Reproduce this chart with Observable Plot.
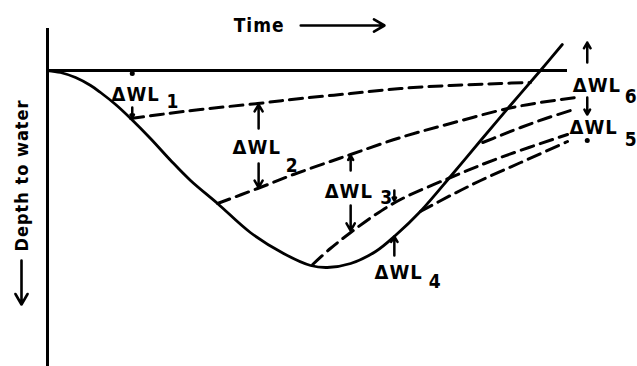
<!DOCTYPE html>
<html><head><meta charset="utf-8">
<script src="https://cdn.jsdelivr.net/npm/d3@7"></script>
<script src="https://cdn.jsdelivr.net/npm/@observablehq/plot@0.6"></script>
<style>html,body{margin:0;padding:0;background:#fff}svg{display:block}</style>
</head><body><div id="chart"></div>
<script>
// Time (0..100) vs depth to water (0 = static level, increasing downward)
const pumpingCurve = [[0,0],[2.5,1],[5.4,3.5],[8.3,7.5],[10.2,11],[13.1,17],[16,24],[19.8,34],[23.7,45],[27.5,55],[32.7,66.5],[39,81],[45.4,91.5],[50.6,97.5],[53.8,98.5],[58.3,96.5],[63.1,90.5],[66.9,82.5],[71.7,70.5],[77.5,53],[83.3,35],[89,17.5],[94.8,0],[99,-13]];
const recovery1 = [[16,24],[21.7,22],[29.4,19.5],[40.4,16.5],[48.7,14],[58.3,11.5],[67.9,9],[77.5,7.5],[87.1,6.5],[92.9,6]];
const recovery2 = [[32.7,66.5],[40.4,59],[47.3,52],[54.4,45.5],[58.3,42],[67.9,33.5],[77.5,26.5],[88.5,19],[94.8,16],[101.5,13.5]];
const recovery3 = [[51,97],[54.4,89],[58.3,81],[63.1,72],[67.9,64.5],[77.5,53.5],[87.1,43.5],[100,32]];
const recovery4 = [[71.7,70.5],[77.5,62.5],[83.3,55],[91,46],[100,35.5]];
const recovery5 = [[83.7,36],[87.1,32.5],[91,28.5],[95.8,24],[100.6,20]];
const staticLevel = [0, 100];

// ΔWL annotations: [time, depth from, depth to]
const measureArrows = [[16.3,18.5,23.5],[40.6,29,17],[40.6,46.5,58.5],[58.3,50,42.5],[58.3,67.5,80],[66.7,60,65],[66.7,92.5,83],[103.8,-4,-14],[103.8,13.5,22]];
const measureDots = [[16.3,1.5],[103.8,35]];
const labelText = ["ΔWL","ΔWL","ΔWL","ΔWL","ΔWL","ΔWL"];
const labelPos = [[12.3,15],[35.6,41.5],[53.3,63.5],[62.9,104],[101,10.5],[100.4,31.5]];
const subText = ["1","2","3","4","6","5"];
const subPos = [[22.9,18.5],[45.8,50.5],[64,66.5],[73.3,108.5],[111,16],[111,37.5]];

const xTitle = "Time";
const yTitle = "Depth to water";

const font = {fontFamily: "'DejaVu Sans Condensed', 'DejaVu Sans', sans-serif", fontWeight: "bold", fill: "black"};
const lineStyle = {x: d => d[0], y: d => d[1], stroke: "black", strokeWidth: 2.8, curve: "catmull-rom"};
const dashed = {...lineStyle, strokeWidth: 3, strokeDasharray: "13,7"};

const chart = Plot.plot({
  width: 637, height: 366,
  marginLeft: 47, marginRight: 70, marginTop: 70, marginBottom: 96,
  x: {domain: [0, 100], axis: null},
  y: {domain: [0, 100], reverse: true, axis: null},
  style: {background: "white", letterSpacing: "1px", overflow: "visible"},
  marks: [
    Plot.ruleX([0], {y1: () => -21, y2: () => 150, stroke: "black", strokeWidth: 3}),
    Plot.ruleY([0], {x1: () => staticLevel[0], x2: () => staticLevel[1], stroke: "black", strokeWidth: 3}),
    Plot.line(pumpingCurve, lineStyle),
    Plot.line(recovery1, dashed),
    Plot.line(recovery2, dashed),
    Plot.line(recovery3, dashed),
    Plot.line(recovery4, dashed),
    Plot.line(recovery5, dashed),
    Plot.arrow(measureArrows, {x1: d => d[0], x2: d => d[0], y1: d => d[1], y2: d => d[2], stroke: "black", strokeWidth: 2.5, headLength: 7}),
    Plot.dot(measureDots, {x: d => d[0], y: d => d[1], r: 2.5, fill: "black"}),
    Plot.text(labelText, {x: (d, i) => labelPos[i][0], y: (d, i) => labelPos[i][1], text: d => d, textAnchor: "start", lineAnchor: "bottom", fontSize: 20, ...font}),
    Plot.text(subText, {x: (d, i) => subPos[i][0], y: (d, i) => subPos[i][1], text: d => d, textAnchor: "start", lineAnchor: "bottom", fontSize: 19, ...font}),
    Plot.text([xTitle], {x: () => 35.8, y: () => -19.5, text: d => d, textAnchor: "start", lineAnchor: "bottom", fontSize: 19, ...font}),
    Plot.arrow([0], {x1: () => 48.7, x2: () => 64.8, y1: () => -22.5, y2: () => -22.5, stroke: "black", strokeWidth: 2.6, headLength: 7}),
    Plot.text([yTitle], {x: () => -4.8, y: () => 52.5, text: d => d, rotate: -90, textAnchor: "middle", lineAnchor: "middle", fontSize: 18, ...font}),
    Plot.arrow([0], {x1: () => -5, x2: () => -5, y1: () => 95, y2: () => 117, stroke: "black", strokeWidth: 2.6, headLength: 7})
  ]
});
document.getElementById("chart").append(chart);
</script>
</body></html>
